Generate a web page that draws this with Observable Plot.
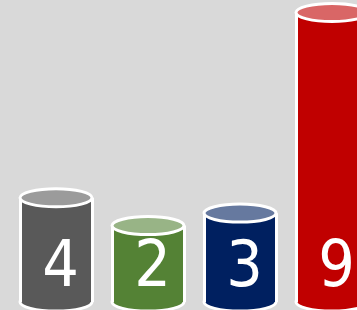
<!DOCTYPE html>
<html><head><meta charset="utf-8">
<script src="https://cdn.jsdelivr.net/npm/d3@7"></script>
<script src="https://cdn.jsdelivr.net/npm/@observablehq/plot@0.6"></script>
<style>html,body{margin:0;padding:0;background:#d9d9d9;overflow:hidden}</style>
</head><body><div id="chart"></div>
<script>
const categories = ["A", "B", "C", "D"];
const labels = [4, 2, 3, 9];
const heights = [36, 26.4, 30.7, 100];
const bodyColors = ["#595959", "#548235", "#002060", "#c00000"];
const topColors = ["#9b9b9b", "#98b486", "#66799f", "#d96666"];

const data = categories.map((c, i) => ({c, label: labels[i], h: heights[i], body: bodyColors[i], top: topColors[i]}));
const half = 36, ry = 9, sw = 3;
const chart = Plot.plot({
  width: 357, height: 310,
  marginTop: 12.5, marginBottom: 8, marginLeft: 0, marginRight: 0,
  style: {background: "#d9d9d9", overflow: "hidden"},
  x: {domain: categories, range: [-1.3, 388.2], padding: 0.22, axis: null},
  y: {domain: [0, 100], axis: null},
  color: {type: "identity"},
  marks: [
    Plot.barY(data, {x: "c", y1: 0, y2: 0, insetTop: -ry, insetBottom: -ry, rx: half, ry: ry, fill: "body", stroke: "white", strokeWidth: sw}),
    Plot.barY(data, {x: "c", y1: 0, y2: "h", fill: "body"}),
    Plot.ruleX(data, {x: "c", y1: 0, y2: "h", dx: -half, stroke: "white", strokeWidth: sw}),
    Plot.ruleX(data, {x: "c", y1: 0, y2: "h", dx: half, stroke: "white", strokeWidth: sw}),
    Plot.barY(data, {x: "c", y1: "h", y2: "h", insetTop: -ry, insetBottom: -ry, rx: half, ry: ry, fill: "top", stroke: "white", strokeWidth: sw}),
    Plot.text(data, {x: "c", y: 0, text: "label", dx: 4, dy: -17, lineAnchor: "bottom", fill: "white", fontSize: 64, fontFamily: "'DejaVu Sans Condensed', 'DejaVu Sans'", fontStretch: "condensed"})
  ]
});
document.getElementById("chart").appendChild(chart);
</script>
</body></html>
